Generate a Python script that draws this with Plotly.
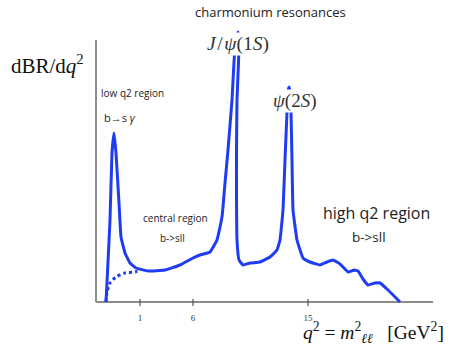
import plotly.graph_objects as go

# ---- data (schematic units: x along q^2 axis, y = dBR/dq^2) ----
curve_x = [10, 12, 14, 16, 18, 20, 23, 25, 29, 34, 40, 52, 69, 84, 97, 104, 114, 121, 126, 129,
           132, 136, 138, 140, 142, 143, 142.5, 141, 140.5, 140.5, 141, 143, 147, 154, 164, 174,
           181, 184, 187, 189, 191, 192, 193, 194, 195, 196, 197, 201, 207, 214, 224, 231, 237,
           244, 252, 258, 262, 267, 272, 279, 284, 292, 304]
curve_y = [0, 40, 82, 149, 169, 149, 99, 65, 49, 39, 34, 31, 32, 37, 44, 47, 50, 62, 85, 119,
           152, 202, 240, 264, 270, 264, 240, 202, 152, 102, 62, 42, 37, 39, 40, 45,
           52, 62, 92, 142, 190, 210, 215, 210, 190, 142, 92, 62, 44, 40, 37, 40, 42,
           38, 30, 32, 31, 23, 17, 19, 19, 12, 0]

nonres_x = [10, 11, 14, 20, 29, 39, 44]
nonres_y = [0, 9, 19, 25, 29, 30, 32]

tick_vals = [44, 97, 212]
tick_text = ["1", "6", "15"]

W, H = 450, 347
BLUE = "#1f3cf5"
GRAY = "#8c8c8c"
SANS = "Open Sans, Liberation Sans, sans-serif"
SERIF = "Liberation Serif, DejaVu Serif, serif"

def P(px, py):
    return px / W, 1 - py / H

fig = go.Figure()
fig.add_trace(go.Scatter(x=nonres_x, y=nonres_y, mode="lines",
                         line=dict(color=BLUE, width=3, dash="dot", shape="spline", smoothing=0.8),
                         hoverinfo="skip", showlegend=False))
fig.add_trace(go.Scatter(x=curve_x, y=curve_y, mode="lines",
                         line=dict(color=BLUE, width=3, shape="spline", smoothing=0.3),
                         hoverinfo="skip", showlegend=False))

shapes = [
    dict(type="line", x0=0, x1=337, y0=0, y1=0, line=dict(color=GRAY, width=2), layer="below"),
    dict(type="line", x0=0, x1=0, y0=0, y1=262, line=dict(color=GRAY, width=2), layer="below"),
]
for t in tick_vals:
    shapes.append(dict(type="line", x0=t, x1=t, y0=-4, y1=3, line=dict(color="#555", width=1.2)))

annos = []
def add_text(text, px, py, size, family=SANS, xanchor="center", color="#222", bg=None):
    x, y = P(px, py)
    d = dict(text=text, x=x, y=y, xref="paper", yref="paper", showarrow=False,
             xanchor=xanchor, yanchor="middle",
             font=dict(size=size, family=family, color=color))
    if bg:
        d.update(bgcolor=bg, borderpad=0)
    annos.append(d)

add_text("charmonium resonances", 270, 12, 13)
add_text("dBR/d<i>q</i><sup>2</sup>", 9, 64, 21, SERIF, xanchor="left", color="#111")
add_text("low q2 region", 99, 93, 10, xanchor="left")
add_text("b→s <i>γ</i>", 102, 118, 11, xanchor="left")
add_text("<i>J</i>\u200a/\u200a<i>ψ</i>(1<i>S</i>)", 238, 44, 19.5, SERIF, color="#333", bg="white")
add_text("<i>ψ</i>(2<i>S</i>)", 294, 101, 19, SERIF, color="#333", bg="white")
add_text("central region", 175, 218, 10)
add_text("b->sll", 172, 238, 10)
add_text("high q2 region", 376, 213, 16)
add_text("b->sll", 369, 237, 13.5)
add_text("<i>q</i><sup>2</sup> = <i>m</i><sup>2</sup><sub><i>ℓℓ</i></sub>   [GeV<sup>2</sup>]",
         373, 332, 19.5, SERIF, color="#111")

fig.update_layout(
    width=W, height=H, margin=dict(l=0, r=0, t=0, b=0),
    paper_bgcolor="white", plot_bgcolor="white",
    shapes=shapes, annotations=annos,
    xaxis=dict(range=[-96, 354], domain=[0, 1], anchor="free", position=45 / H,
               showline=False, showgrid=False, zeroline=False, ticks="",
               tickvals=tick_vals, ticktext=tick_text, ticklabelstandoff=9,
               tickfont=dict(family=SERIF, size=9, color="#333")),
    yaxis=dict(range=[-45, 302], domain=[0, 1], visible=False, showgrid=False, zeroline=False),
)

fig.write_html("out.html")
